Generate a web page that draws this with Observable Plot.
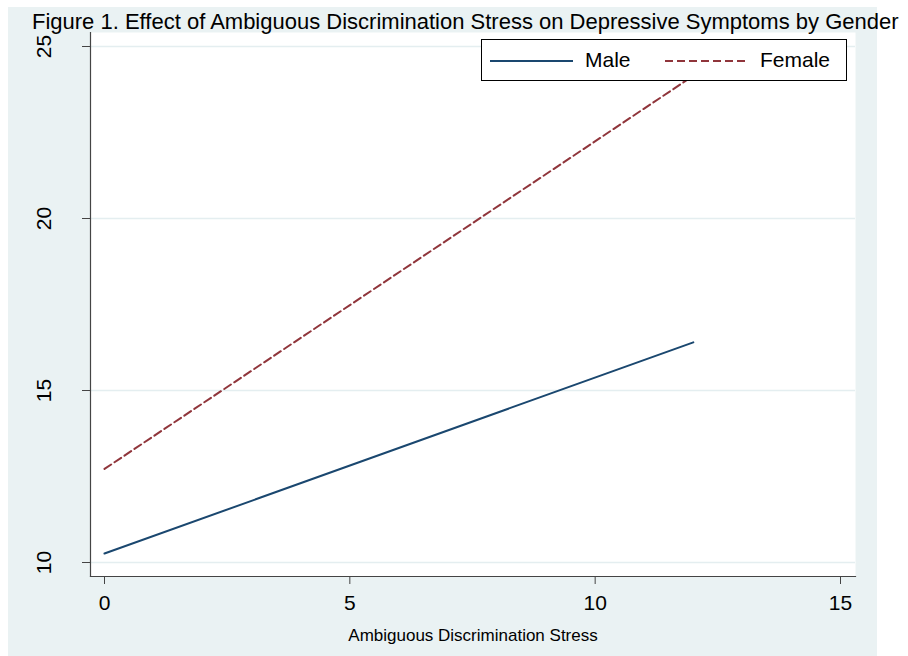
<!DOCTYPE html>
<html>
<head>
<meta charset="utf-8">
<script src="https://cdn.jsdelivr.net/npm/d3@7"></script>
<script src="https://cdn.jsdelivr.net/npm/@observablehq/plot@0.6"></script>
<style>
  html, body { margin: 0; padding: 0; background: #ffffff; }
  #wrap { position: relative; width: 908px; height: 656px; overflow: hidden; font-family: "Liberation Sans", Arial, sans-serif; }
  #panel { position: absolute; left: 8px; top: 7px; width: 869px; height: 649px; background: #eaf2f3; }
  #chart { position: absolute; left: 0; top: 0; }
  #title { position: absolute; left: 0; top: 0; }
  #legend { position: absolute; left: 481px; top: 39px; width: 364px; height: 40px; border: 1px solid #000; background: #fff; }
  #legend .item { position: absolute; top: 0; height: 40px; line-height: 40px; font-size: 21px; color: #000; }
  #legend svg { position: absolute; top: 0; }
</style>
</head>
<body>
<div id="wrap">
  <div id="panel"></div>
  <div id="chart"></div>
  <svg id="title" width="908" height="40"></svg>
  <div id="legend"></div>
</div>
<script>
const titleText = "Figure 1. Effect of Ambiguous Discrimination Stress on Depressive Symptoms by Gender";
const xLabel = "Ambiguous Discrimination Stress";
const seriesNames = ["Male", "Female"];
const seriesColors = ["#1a476f", "#90353b"];
const seriesDash = [null, "8,4"];
const stressValues = [0, 12];
const maleValues = [10.26, 16.40];
const femaleValues = [12.72, 24.15];
const xTicks = [0, 5, 10, 15];
const yTicks = [10, 15, 20, 25];

const rows = [];
stressValues.forEach((x, i) => {
  rows.push({series: "Male", x, y: maleValues[i]});
  rows.push({series: "Female", x, y: femaleValues[i]});
});

const font = "'Liberation Sans', Arial, sans-serif";

const chart = Plot.plot({
  width: 908,
  height: 656,
  marginLeft: 90,
  marginRight: 53,
  marginTop: 32,
  marginBottom: 80,
  style: {background: "transparent", fontFamily: font, color: "#000", overflow: "visible"},
  x: {domain: [0, 15], insetLeft: 14, insetRight: 15},
  y: {domain: [10, 25], insetTop: 14, insetBottom: 14},
  marks: [
    Plot.frame({fill: "white", stroke: "none"}),
    Plot.ruleY(yTicks, {stroke: "#e4eef0", strokeWidth: 1.5}),
    ...seriesNames.map((s, i) => Plot.line(rows.filter(r => r.series === s), {
      x: "x", y: "y", stroke: seriesColors[i], strokeWidth: 2, strokeDasharray: seriesDash[i] || undefined
    })),
    Plot.axisX({ticks: xTicks, tickSize: 8, tickPadding: 11, fontSize: 21, label: null, stroke: "#444", tickFormat: d => String(d)}),
    Plot.axisY({ticks: yTicks, tickSize: 8, label: null, stroke: "#444", tickFormat: () => ""}),
    Plot.text(yTicks, {y: d => d, text: d => String(d), frameAnchor: "left", dx: -46, rotate: -90, fontSize: 21, textAnchor: "middle", lineAnchor: "middle", fill: "#000"}),
    Plot.frame({anchor: "left", stroke: "#444", strokeWidth: 1.2}),
    Plot.frame({anchor: "bottom", stroke: "#444", strokeWidth: 1.2}),
    Plot.text([xLabel], {text: d => d, frameAnchor: "bottom", dy: 64, fontSize: 17, fill: "#000"})
  ]
});
document.getElementById("chart").appendChild(chart);

// Title
const ts = d3.select("#title");
ts.append("text")
  .attr("x", 32).attr("y", 29)
  .attr("font-family", font).attr("font-size", 22)
  .attr("fill", "#000")
  .text(titleText);

// Legend
const legend = d3.select("#legend");
const swatchX = [8, 183];
const labelX = [103, 278];
seriesNames.forEach((s, i) => {
  const sv = legend.append("svg").attr("width", 84).attr("height", 40).style("left", swatchX[i] + "px");
  sv.append("line").attr("x1", 0).attr("x2", 83).attr("y1", 21).attr("y2", 21)
    .attr("stroke", seriesColors[i]).attr("stroke-width", 2)
    .attr("stroke-dasharray", seriesDash[i]);
  legend.append("div").attr("class", "item").style("left", labelX[i] + "px").text(s);
});
</script>
</body>
</html>
